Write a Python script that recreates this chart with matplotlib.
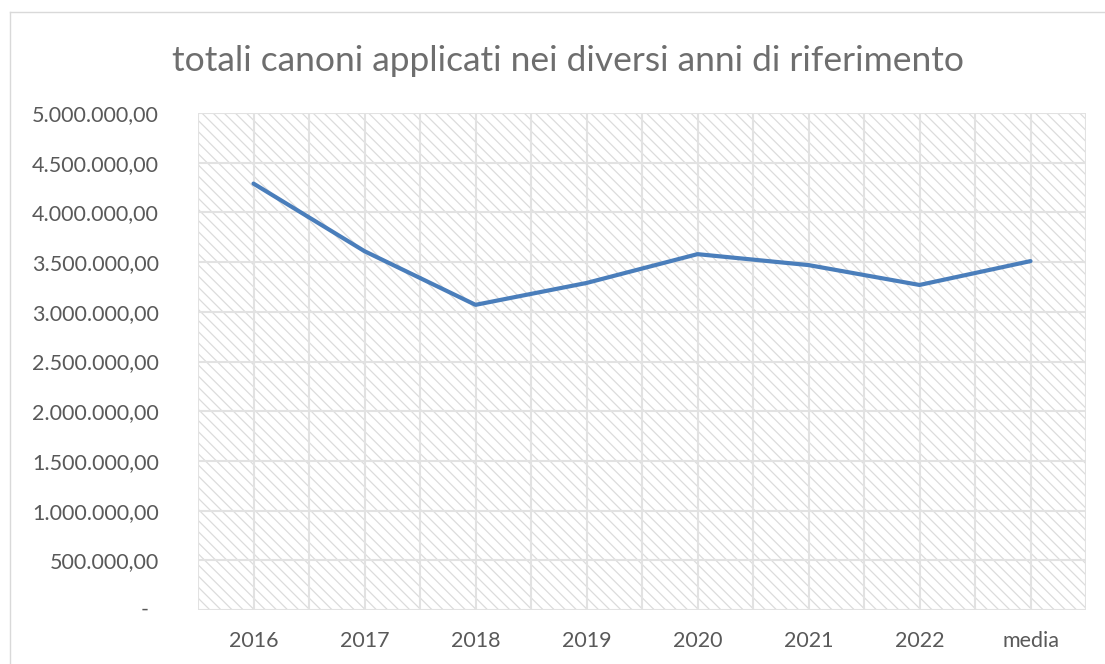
import numpy as np
import matplotlib
matplotlib.use("Agg")
import matplotlib.pyplot as plt
from matplotlib.ticker import FixedLocator, FuncFormatter

# data
categories = ["2016", "2017", "2018", "2019", "2020", "2021", "2022", "media"]
totals = [4290000, 3610000, 3070000, 3290000, 3580000, 3470000, 3270000, 3510000]
y_ticks = np.arange(0, 5000001, 500000)

title = "totali canoni applicati nei diversi anni di riferimento"

plt.rcParams["font.family"] = ["Lato", "DejaVu Sans"]
plt.rcParams["hatch.linewidth"] = 0.9

text_grey = "#595959"
grid_grey = "#e2e2e2"
hatch_grey = "#dcdcdc"


def it_fmt(v, pos=None):
    if v == 0:
        return ""
    s = f"{v:,.2f}"
    return s.replace(",", "X").replace(".", ",").replace("X", ".")


fig = plt.figure(figsize=(11.05, 6.64), dpi=100)
ax = fig.add_axes([198 / 1105, 1 - 610 / 664, (1086 - 198) / 1105, (610 - 113) / 664])

# hatched plot area background
ax.set_facecolor("white")
ax.add_patch(plt.Rectangle((0, 0), 1, 1, transform=ax.transAxes, facecolor="white",
                           edgecolor=hatch_grey, linewidth=0, hatch="\\\\\\", zorder=0))

x = np.arange(len(categories))
ax.set_xlim(-0.5, len(categories) - 0.5)
ax.set_ylim(0, 5000000)

for gx in np.arange(-0.5, len(categories), 0.5):
    ax.axvline(gx, color=grid_grey, lw=1.5, zorder=1)
for gy in y_ticks:
    ax.axhline(gy, color=grid_grey, lw=1.5, zorder=1)

ax.plot(x, totals, color="#4a7ebb", lw=3.0, solid_capstyle="round",
        solid_joinstyle="round", zorder=3)

for s in ax.spines.values():
    s.set_visible(False)

ax.xaxis.set_major_locator(FixedLocator(x))
ax.set_xticklabels(categories)
ax.yaxis.set_major_locator(FixedLocator(y_ticks))
ax.yaxis.set_major_formatter(FuncFormatter(it_fmt))
ax.tick_params(axis="both", length=0, colors=text_grey, labelsize=15.5)
ax.tick_params(axis="x", pad=15)
ax.tick_params(axis="y", pad=28)

# Excel accounting format shows zero as a dash
ax.text(145 / 1105, 1 - 610 / 664, "-", transform=fig.transFigure, ha="center",
        va="center", color=text_grey, fontsize=15.5)

fig.text(568 / 1105, 1 - 61 / 664, title, ha="center", va="center",
         color="#6e6e6e", fontsize=25.5)

# chart outer border
fig.add_artist(plt.Line2D([10 / 1105, 10 / 1105], [0, 1 - 12 / 664],
                          transform=fig.transFigure, color="#d9d9d9", lw=1))
fig.add_artist(plt.Line2D([10 / 1105, 1], [1 - 12 / 664, 1 - 12 / 664],
                          transform=fig.transFigure, color="#d9d9d9", lw=1))

fig.savefig("out.png", dpi=100)
